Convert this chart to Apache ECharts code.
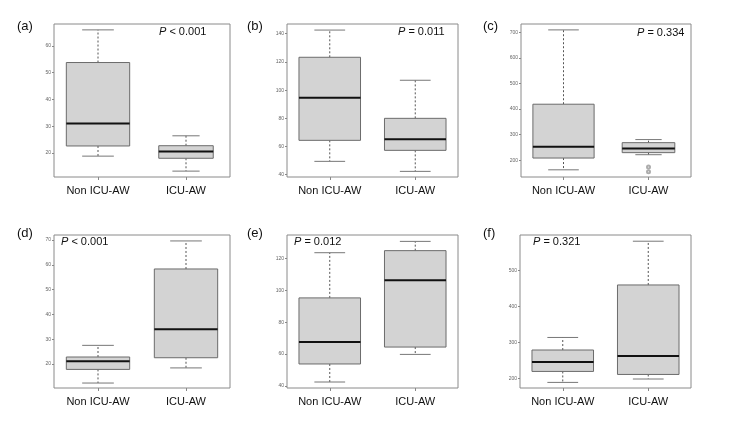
<!DOCTYPE html>
<html>
<head>
<meta charset="utf-8">
<script src="https://cdn.jsdelivr.net/npm/echarts@6/dist/echarts.min.js"></script>
<style>
html, body { margin: 0; background: #fff; }
#chart { width: 750px; height: 422px; }
</style>
</head>
<body>
<div id="chart"></div>
<script>
// groups on the x axis
var groups = ['Non ICU-AW', 'ICU-AW'];

// each box: [lower whisker, Q1, median, Q3, upper whisker]
var boxA = [[18.8, 22.6, 31.0, 53.8, 66.0], [13.2, 18.0, 20.5, 22.7, 26.4]];
var boxB = [[49.5, 64.4, 94.6, 123.3, 142.6], [42.4, 57.3, 65.1, 80.0, 107.0]];
var boxC = [[163, 209, 253, 419, 709], [222, 230, 246, 269, 281]];
var boxD = [[12.3, 17.8, 21.1, 22.8, 27.5], [18.4, 22.5, 34.0, 58.3, 69.6]];
var boxE = [[42.5, 53.8, 67.5, 95.2, 123.5], [59.8, 64.4, 106.3, 124.8, 130.6]];
var boxF = [[188.9, 219.4, 245.6, 279.0, 313.9], [198.3, 211.0, 262.0, 460.0, 581.7]];

// outliers in (c), ICU-AW group
var outliersC = [174, 155];

// y tick labels
var ticksA = [20, 30, 40, 50, 60];
var ticksB = [40, 60, 80, 100, 120, 140];
var ticksC = [200, 300, 400, 500, 600, 700];
var ticksD = [20, 30, 40, 50, 60, 70];
var ticksE = [40, 60, 80, 100, 120];
var ticksF = [200, 300, 400, 500];

var panelNames = ['(a)', '(b)', '(c)', '(d)', '(e)', '(f)'];
var pSigns = ['<', '=', '=', '<', '=', '='];
var pValues = ['0.001', '0.011', '0.334', '0.001', '0.012', '0.321'];

var panels = [
    {box: boxA, ticks: ticksA, min: 11, max: 68.2, grid: [54, 24, 176, 153], name: [17, 20], p: [159, 26], scale: [1, 0.86]},
    {box: boxB, ticks: ticksB, min: 38.4, max: 146.9, grid: [287, 24, 171, 153], name: [247, 20], p: [398, 26], scale: [1, 1]},
    {box: boxC, ticks: ticksC, min: 135, max: 732, grid: [521, 24, 170, 153], name: [483, 20], p: [637, 27], scale: [1, 0.86]},
    {box: boxD, ticks: ticksD, min: 10.3, max: 72, grid: [54, 235, 176, 153], name: [17, 227], p: [61, 236], scale: [1, 1]},
    {box: boxE, ticks: ticksE, min: 38.75, max: 134.6, grid: [287, 235, 171, 153], name: [247, 227], p: [294, 236], scale: [1, 1]},
    {box: boxF, ticks: ticksF, min: 173.3, max: 599, grid: [520, 235, 171, 153], name: [483, 227], p: [533, 236], scale: [1, 1]}
];

function makeRender(scale) {
    return function (params, api) {
        var x = api.value(0);
        var lo = api.coord([x, api.value(1)]);
        var q1 = api.coord([x, api.value(2)]);
        var md = api.coord([x, api.value(3)]);
        var q3 = api.coord([x, api.value(4)]);
        var hi = api.coord([x, api.value(5)]);
        var band = api.size([1, 0])[0];
        var hw = band * 0.36 * scale[x];
        var cw = hw * 0.5;
        var cx = lo[0];
        var dash = {stroke: '#555', lineWidth: 1, lineDash: [2, 2]};
        var solid = {stroke: '#777', lineWidth: 1};
        return {
            type: 'group',
            children: [
                {type: 'line', shape: {x1: cx, y1: q3[1], x2: cx, y2: hi[1]}, style: dash},
                {type: 'line', shape: {x1: cx, y1: q1[1], x2: cx, y2: lo[1]}, style: dash},
                {type: 'line', shape: {x1: cx - cw, y1: hi[1], x2: cx + cw, y2: hi[1]}, style: solid},
                {type: 'line', shape: {x1: cx - cw, y1: lo[1], x2: cx + cw, y2: lo[1]}, style: solid},
                {type: 'rect', shape: {x: cx - hw, y: q3[1], width: hw * 2, height: q1[1] - q3[1]},
                    style: {fill: '#d3d3d3', stroke: '#6b6b6b', lineWidth: 1}},
                {type: 'line', shape: {x1: cx - hw, y1: md[1], x2: cx + hw, y2: md[1]},
                    style: {stroke: '#111', lineWidth: 2}}
            ]
        };
    };
}

var option = {
    backgroundColor: '#fff',
    animation: false,
    grid: [], xAxis: [], yAxis: [], series: [], title: []
};

panels.forEach(function (pn, i) {
    option.grid.push({
        left: pn.grid[0], top: pn.grid[1], width: pn.grid[2], height: pn.grid[3],
        show: true, borderColor: '#8a8a8a', borderWidth: 1, backgroundColor: 'transparent'
    });
    option.xAxis.push({
        type: 'category', gridIndex: i, data: groups, boundaryGap: true,
        axisLine: {show: false},
        axisTick: {show: true, alignWithLabel: true, length: 3, lineStyle: {color: '#888'}},
        axisLabel: {color: '#111', fontSize: 11, fontFamily: 'Liberation Sans, Arial, sans-serif', margin: 8}
    });
    option.yAxis.push({
        type: 'value', gridIndex: i, min: pn.min, max: pn.max,
        splitLine: {show: false},
        axisLine: {show: false},
        axisTick: {show: true, length: 2, customValues: pn.ticks, lineStyle: {color: '#888'}},
        axisLabel: {customValues: pn.ticks, fontSize: 5, color: '#666', margin: 3,
            fontFamily: 'Liberation Sans, Arial, sans-serif'}
    });
    option.series.push({
        type: 'custom', xAxisIndex: i, yAxisIndex: i,
        renderItem: makeRender(pn.scale),
        data: pn.box.map(function (b, k) { return [k].concat(b); })
    });
    option.title.push({
        text: panelNames[i], left: pn.name[0], top: pn.name[1], padding: 0,
        textStyle: {fontSize: 13, fontWeight: 'normal', color: '#111',
            fontFamily: 'Liberation Sans, Arial, sans-serif'}
    });
    option.title.push({
        text: '{i|P} ' + pSigns[i] + ' ' + pValues[i], left: pn.p[0], top: pn.p[1], padding: 0,
        textStyle: {fontSize: 11, fontWeight: 'normal', color: '#111',
            fontFamily: 'Liberation Sans, Arial, sans-serif',
            rich: {i: {fontStyle: 'italic', fontSize: 11, color: '#111',
                fontFamily: 'Liberation Sans, Arial, sans-serif'}}}
    });
});

// outlier points in (c)
option.series.push({
    type: 'scatter', xAxisIndex: 2, yAxisIndex: 2,
    symbol: 'emptyCircle', symbolSize: 3,
    itemStyle: {color: '#999', borderWidth: 0.7},
    data: outliersC.map(function (v) { return [1, v]; })
});

var myChart = echarts.init(document.getElementById('chart'));
myChart.setOption(option);
</script>
</body>
</html>
